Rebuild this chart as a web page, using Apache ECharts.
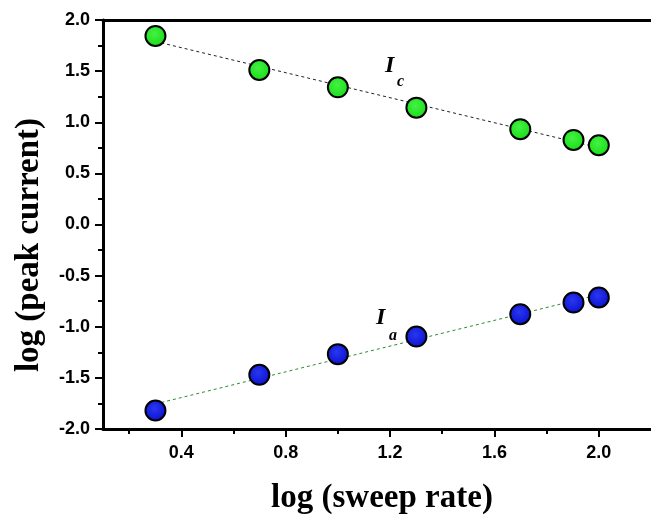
<!DOCTYPE html>
<html>
<head>
<meta charset="utf-8">
<script src="https://cdn.jsdelivr.net/npm/echarts@6/dist/echarts.min.js"></script>
<style>
html,body{margin:0;padding:0;background:#fff;}
#chart{width:651px;height:516px;}
</style>
</head>
<body>
<div id="chart"></div>
<script>
// ---- data ----
const logSweepRate = [0.301, 0.699, 1.0, 1.301, 1.699, 1.903, 2.0];
const logIc = [1.844, 1.511, 1.342, 1.143, 0.932, 0.827, 0.775];
const logIa = [-1.819, -1.47, -1.268, -1.096, -0.877, -0.763, -0.714];
// fitted straight lines (end points)
const icFitX = [0.301, 2.0];
const icFitY = [1.79, 0.751];
const iaFitX = [0.301, 2.0];
const iaFitY = [-1.755, -0.686];
const xMajorTicks = [0.4, 0.8, 1.2, 1.6, 2.0];
const xMinorTicks = [0.2, 0.6, 1.0, 1.4, 1.8];

const pairs = (xs, ys) => xs.map((x, i) => [x, ys[i]]);

const chart = echarts.init(document.getElementById('chart'), null, {renderer: 'canvas'});

const labelFont = {fontFamily: 'Liberation Sans', fontWeight: 'bold', fontSize: 18, color: '#000'};
const serif = '"Liberation Serif", "DejaVu Serif", serif';

function ball(base, light) {
  return {
    type: 'radial', x: 0.45, y: 0.4, r: 0.6,
    colorStops: [{offset: 0, color: light}, {offset: 1, color: base}]
  };
}

const option = {
  animation: false,
  backgroundColor: '#fff',
  grid: {left: 103, top: 20, right: -9, bottom: 87, containLabel: false},
  xAxis: [
    {
      type: 'value', min: 0.1, max: 2.2, position: 'bottom',
      axisLine: {show: true, onZero: false, lineStyle: {color: '#000', width: 3}},
      axisTick: {show: true, length: 8, lineStyle: {color: '#000', width: 2}, customValues: xMajorTicks},
      axisLabel: Object.assign({margin: 15, customValues: xMajorTicks, formatter: v => v.toFixed(1)}, labelFont),
      splitLine: {show: false}
    },
    {
      type: 'value', min: 0.1, max: 2.2, position: 'bottom',
      axisLine: {show: false, onZero: false},
      axisTick: {show: true, length: 5, lineStyle: {color: '#000', width: 2}, customValues: xMinorTicks},
      axisLabel: {show: false},
      splitLine: {show: false}
    },
    {
      type: 'value', min: 0.1, max: 2.2, position: 'top',
      axisLine: {show: true, onZero: false, lineStyle: {color: '#000', width: 3}},
      axisTick: {show: false}, axisLabel: {show: false}, splitLine: {show: false}
    }
  ],
  yAxis: [{
    type: 'value', min: -2, max: 2, interval: 0.5, position: 'left',
    axisLine: {show: true, onZero: false, lineStyle: {color: '#000', width: 3}},
    axisTick: {show: true, length: 8, lineStyle: {color: '#000', width: 2}},
    minorTick: {show: true, splitNumber: 2, length: 5, lineStyle: {color: '#000', width: 2}},
    axisLabel: Object.assign({margin: 13, formatter: v => v.toFixed(1)}, labelFont),
    splitLine: {show: false}
  }],
  series: [
    {
      type: 'line', name: 'Ic fit', data: pairs(icFitX, icFitY), symbol: 'none', silent: true,
      lineStyle: {color: '#222', width: 1, type: [3, 3]}, z: 1
    },
    {
      type: 'line', name: 'Ia fit', data: pairs(iaFitX, iaFitY), symbol: 'none', silent: true,
      lineStyle: {color: '#2e8b2e', width: 1, type: [3, 3]}, z: 1
    },
    {
      type: 'scatter', name: 'Ic', data: pairs(logSweepRate, logIc), symbol: 'circle', symbolSize: 20,
      itemStyle: {color: ball('#16dc16', '#44f244'), borderColor: '#000', borderWidth: 2, opacity: 1}, z: 3
    },
    {
      type: 'scatter', name: 'Ia', data: pairs(logSweepRate, logIa), symbol: 'circle', symbolSize: 20,
      itemStyle: {color: ball('#0a12d0', '#2a36f0'), borderColor: '#000', borderWidth: 2, opacity: 1}, z: 3
    }
  ],
  graphic: [
    {type: 'text', x: 382, y: 515, style: {text: 'log (sweep rate)', font: 'bold 33px ' + serif, fill: '#000', textAlign: 'center', textVerticalAlign: 'bottom'}},
    {type: 'text', x: 29, y: 245, rotation: Math.PI / 2, style: {text: 'log (peak current)', font: 'bold 33px ' + serif, fill: '#000', textAlign: 'center', textVerticalAlign: 'middle'}},
    {type: 'text', x: 385, y: 78, style: {text: 'I', font: 'italic bold 24px ' + serif, fill: '#000', textAlign: 'left', textVerticalAlign: 'bottom'}},
    {type: 'text', x: 397, y: 90, style: {text: 'c', font: 'italic bold 16px ' + serif, fill: '#000', textAlign: 'left', textVerticalAlign: 'bottom'}},
    {type: 'text', x: 376, y: 330, style: {text: 'I', font: 'italic bold 24px ' + serif, fill: '#000', textAlign: 'left', textVerticalAlign: 'bottom'}},
    {type: 'text', x: 389, y: 344, style: {text: 'a', font: 'italic bold 16px ' + serif, fill: '#000', textAlign: 'left', textVerticalAlign: 'bottom'}}
  ]
};
chart.setOption(option);
</script>
</body>
</html>
